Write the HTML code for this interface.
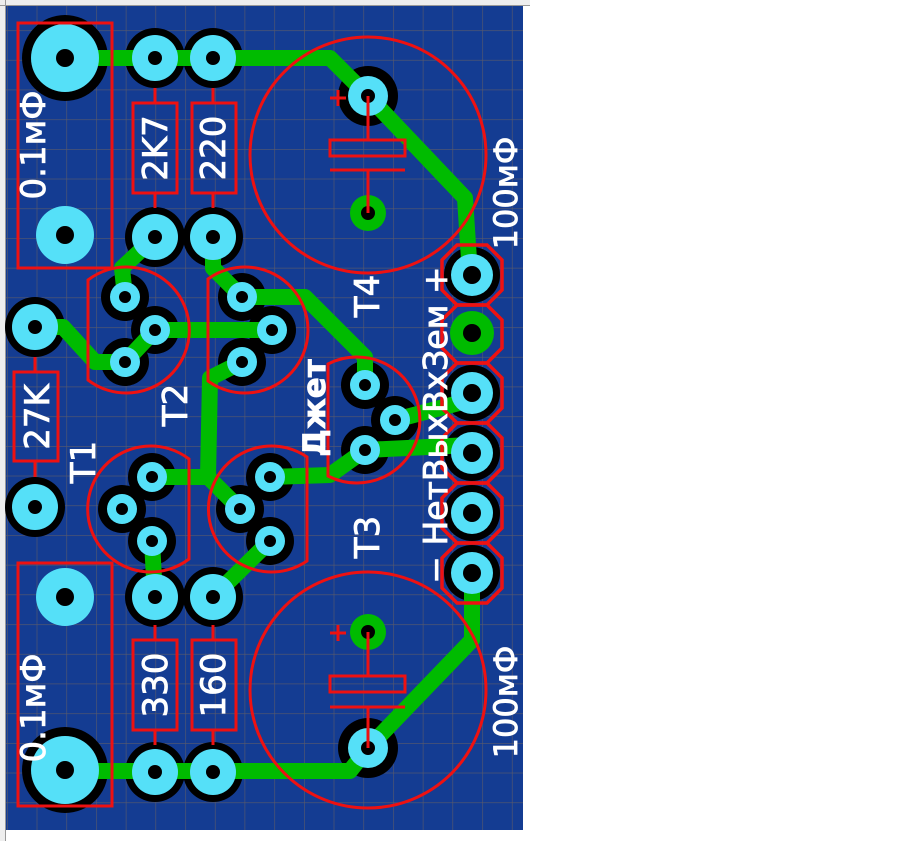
<!DOCTYPE html>
<html><head><meta charset="utf-8"><style>
html,body{margin:0;padding:0;background:#fff;width:904px;height:841px;overflow:hidden}
svg{display:block}
text{font-family:"DejaVu Sans","Liberation Sans",sans-serif;fill:#fff}
</style></head><body>
<svg width="904" height="841" viewBox="0 0 904 841" xmlns="http://www.w3.org/2000/svg">
<defs>
<pattern id="g" x="7" y="0.5" width="29.7" height="29.7" patternUnits="userSpaceOnUse">
<path d="M0 0H29.7M0 0V29.7" stroke="#5a5a6a" stroke-width="1.2" fill="none"/>
</pattern>
</defs>
<rect x="0" y="0" width="530" height="6" fill="#eee"/>
<rect x="0" y="0" width="6" height="841" fill="#eee"/>
<line x1="5.5" y1="0" x2="5.5" y2="841" stroke="#999"/>
<line x1="0" y1="5.5" x2="530" y2="5.5" stroke="#999"/>
<rect x="6" y="6" width="517" height="824" fill="#143c92"/>
<rect x="6" y="6" width="517" height="824" fill="url(#g)"/>

<g fill="#000">
<circle cx="65" cy="58" r="43"/><circle cx="65" cy="770" r="43"/>
<circle cx="155" cy="58" r="30"/><circle cx="213" cy="58" r="30"/>
<circle cx="155" cy="237" r="30"/><circle cx="213" cy="237" r="30"/>
<circle cx="155" cy="597" r="30"/><circle cx="213" cy="597" r="30"/>
<circle cx="155" cy="772" r="30"/><circle cx="213" cy="772" r="30"/>
<circle cx="35" cy="327" r="30"/><circle cx="35" cy="507" r="30"/>
<circle cx="125" cy="297" r="24"/><circle cx="155" cy="330" r="24"/><circle cx="125" cy="362" r="24"/>
<circle cx="242" cy="297" r="24"/><circle cx="272" cy="330" r="24"/><circle cx="242" cy="362" r="24"/>
<circle cx="152" cy="477" r="24"/><circle cx="122" cy="509" r="24"/><circle cx="152" cy="541" r="24"/>
<circle cx="270" cy="477" r="24"/><circle cx="240" cy="509" r="24"/><circle cx="270" cy="541" r="24"/>
<circle cx="365" cy="385" r="24"/><circle cx="395" cy="420" r="24"/><circle cx="365" cy="450" r="24"/>
<circle cx="368" cy="96" r="30"/><circle cx="368" cy="748" r="30"/>
<circle cx="472" cy="275" r="28"/><circle cx="472" cy="393" r="28"/><circle cx="472" cy="453" r="28"/><circle cx="472" cy="513" r="28"/><circle cx="472" cy="573" r="28"/>
</g>

<g stroke="#00bb00" stroke-width="16" fill="none" stroke-linejoin="round" stroke-linecap="round">
<polyline points="65,58 330,58 368,96 465,198 470,275"/>
<polyline points="65,771 350,771 368,748 472,640 472,573"/>
<polyline points="155,237 122,268 125,297"/>
<polyline points="213,237 213,268 242,297"/>
<polyline points="35,327 63,327 95,362 125,362"/>
<polyline points="125,362 155,330 272,330"/>
<polyline points="242,297 305,297 365,357 365,385"/>
<polyline points="242,362 210,378 208,477 152,477"/>
<polyline points="208,477 240,509"/>
<polyline points="270,477 330,475 365,450 470,445"/>
<polyline points="395,420 470,400"/>
<polyline points="152,541 155,597"/>
<polyline points="270,541 213,597"/>
</g>

<circle cx="368" cy="213" r="18" fill="#00bb00"/>
<circle cx="368" cy="632" r="18" fill="#00bb00"/>
<circle cx="472" cy="333" r="22" fill="#00bb00"/>

<g fill="#55e0f8">
<circle cx="65" cy="58" r="34"/><circle cx="65" cy="770" r="34"/>
<circle cx="65" cy="235" r="29"/><circle cx="65" cy="597" r="29"/>
<circle cx="155" cy="58" r="23"/><circle cx="213" cy="58" r="23"/>
<circle cx="155" cy="237" r="23"/><circle cx="213" cy="237" r="23"/>
<circle cx="155" cy="597" r="23"/><circle cx="213" cy="597" r="23"/>
<circle cx="155" cy="772" r="23"/><circle cx="213" cy="772" r="23"/>
<circle cx="35" cy="327" r="23"/><circle cx="35" cy="507" r="23"/>
<circle cx="125" cy="297" r="15"/><circle cx="155" cy="330" r="15"/><circle cx="125" cy="362" r="15"/>
<circle cx="242" cy="297" r="15"/><circle cx="272" cy="330" r="15"/><circle cx="242" cy="362" r="15"/>
<circle cx="152" cy="477" r="15"/><circle cx="122" cy="509" r="15"/><circle cx="152" cy="541" r="15"/>
<circle cx="270" cy="477" r="15"/><circle cx="240" cy="509" r="15"/><circle cx="270" cy="541" r="15"/>
<circle cx="365" cy="385" r="15"/><circle cx="395" cy="420" r="15"/><circle cx="365" cy="450" r="15"/>
<circle cx="368" cy="96" r="20"/><circle cx="368" cy="748" r="20"/>
<circle cx="472" cy="275" r="21"/><circle cx="472" cy="393" r="21"/><circle cx="472" cy="453" r="21"/><circle cx="472" cy="513" r="21"/><circle cx="472" cy="573" r="21"/>
</g>

<g fill="#000">
<circle cx="65" cy="58" r="9"/><circle cx="65" cy="770" r="9"/>
<circle cx="65" cy="235" r="9"/><circle cx="65" cy="597" r="9"/>
<circle cx="155" cy="58" r="7"/><circle cx="213" cy="58" r="7"/>
<circle cx="155" cy="237" r="7"/><circle cx="213" cy="237" r="7"/>
<circle cx="155" cy="597" r="7"/><circle cx="213" cy="597" r="7"/>
<circle cx="155" cy="772" r="7"/><circle cx="213" cy="772" r="7"/>
<circle cx="35" cy="327" r="7"/><circle cx="35" cy="507" r="7"/>
<circle cx="125" cy="297" r="6"/><circle cx="155" cy="330" r="6"/><circle cx="125" cy="362" r="6"/>
<circle cx="242" cy="297" r="6"/><circle cx="272" cy="330" r="6"/><circle cx="242" cy="362" r="6"/>
<circle cx="152" cy="477" r="6"/><circle cx="122" cy="509" r="6"/><circle cx="152" cy="541" r="6"/>
<circle cx="270" cy="477" r="6"/><circle cx="240" cy="509" r="6"/><circle cx="270" cy="541" r="6"/>
<circle cx="365" cy="385" r="6"/><circle cx="395" cy="420" r="6"/><circle cx="365" cy="450" r="6"/>
<circle cx="368" cy="96" r="7"/><circle cx="368" cy="748" r="7"/>
<circle cx="368" cy="213" r="7"/><circle cx="368" cy="632" r="7"/>
<circle cx="472" cy="275" r="9"/><circle cx="472" cy="333" r="9"/><circle cx="472" cy="393" r="9"/><circle cx="472" cy="453" r="9"/><circle cx="472" cy="513" r="9"/><circle cx="472" cy="573" r="9"/>
</g>

<g stroke="#ee1111" stroke-width="3" fill="none">
<rect x="18" y="23" width="94" height="245"/>
<rect x="18" y="563" width="94" height="243"/>
<rect x="133" y="103" width="44" height="90"/><line x1="155" y1="88" x2="155" y2="103"/><line x1="155" y1="193" x2="155" y2="208"/>
<rect x="192" y="103" width="44" height="90"/><line x1="213" y1="88" x2="213" y2="103"/><line x1="213" y1="193" x2="213" y2="208"/>
<rect x="133" y="640" width="44" height="90"/><line x1="155" y1="625" x2="155" y2="640"/><line x1="155" y1="730" x2="155" y2="745"/>
<rect x="192" y="640" width="44" height="90"/><line x1="213" y1="625" x2="213" y2="640"/><line x1="213" y1="730" x2="213" y2="745"/>
<rect x="14" y="372" width="44" height="89"/><line x1="35" y1="357" x2="35" y2="372"/><line x1="35" y1="461" x2="35" y2="477"/>
<path d="M88,280 A63,63 0 1,1 88,380 Z"/>
<path d="M208,279 A63,63 0 1,1 208,381 Z"/>
<path d="M189,459 A63,63 0 1,0 189,559 Z"/>
<path d="M307,457 A63,63 0 1,0 307,561 Z"/>
<path d="M328,364 A63,63 0 1,1 328,476 Z"/>
<circle cx="368" cy="155" r="118"/>
<circle cx="368" cy="690" r="118"/>
<line x1="368" y1="96" x2="368" y2="140"/><rect x="330" y="140" width="75" height="16"/><line x1="330" y1="170" x2="405" y2="170"/><line x1="368" y1="170" x2="368" y2="213"/>
<line x1="330" y1="98" x2="346" y2="98"/><line x1="338" y1="90" x2="338" y2="106"/>
<line x1="368" y1="632" x2="368" y2="676"/><rect x="330" y="676" width="75" height="16"/><line x1="330" y1="707" x2="405" y2="707"/><line x1="368" y1="707" x2="368" y2="748"/>
<line x1="330" y1="633" x2="346" y2="633"/><line x1="338" y1="625" x2="338" y2="641"/>
</g>
<g stroke="#ee1111" stroke-width="3.5" fill="none">
<path d="M457,245 H487 L502,260 V290 L487,305 H457 L442,290 V260 Z"/>
<path d="M457,305 H487 L502,320 V348 L487,363 H457 L442,348 V320 Z"/>
<path d="M457,363 H487 L502,378 V408 L487,423 H457 L442,408 V378 Z"/>
<path d="M457,423 H487 L502,438 V468 L487,483 H457 L442,468 V438 Z"/>
<path d="M457,483 H487 L502,498 V528 L487,543 H457 L442,528 V498 Z"/>
<path d="M457,543 H487 L502,558 V588 L487,603 H457 L442,588 V558 Z"/>
</g>

<g font-size="34" stroke="#fff" stroke-width="0.8">
<text transform="translate(45,145) rotate(-90)" text-anchor="middle">0.1мФ</text>
<text transform="translate(45,708) rotate(-90)" text-anchor="middle">0.1мФ</text>
<text transform="translate(167,148) rotate(-90)" text-anchor="middle">2K7</text>
<text transform="translate(225,148) rotate(-90)" text-anchor="middle">220</text>
<text transform="translate(167,685) rotate(-90)" text-anchor="middle">330</text>
<text transform="translate(225,685) rotate(-90)" text-anchor="middle">160</text>
<text transform="translate(49,417) rotate(-90)" text-anchor="middle">27K</text>
<text transform="translate(95,462) rotate(-90)" text-anchor="middle">T1</text>
<text transform="translate(187,405) rotate(-90)" text-anchor="middle">T2</text>
<text transform="translate(379,296) rotate(-90)" text-anchor="middle">T4</text>
<text transform="translate(379,537) rotate(-90)" text-anchor="middle">T3</text>
<text transform="translate(325,408) rotate(-90)" text-anchor="middle" font-weight="bold" font-size="31">Джет</text>
<text transform="translate(447,425) rotate(-90)" text-anchor="middle" font-size="33">− НетВыхВхЗем +</text>
<text transform="translate(517,193) rotate(-90)" text-anchor="middle" font-size="32">100мФ</text>
<text transform="translate(517,702) rotate(-90)" text-anchor="middle" font-size="32">100мФ</text>
</g>
</svg>
</body></html>
